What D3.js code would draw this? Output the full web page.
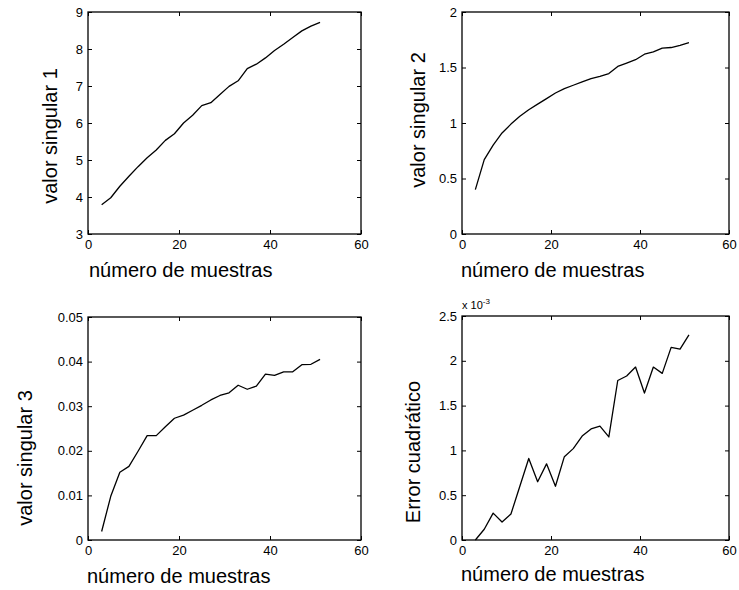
<!DOCTYPE html>
<html>
<head>
<meta charset="utf-8">
<script src="https://cdn.jsdelivr.net/npm/d3@7"></script>
<style>
  body { margin: 0; background: #fff; }
  svg { display: block; }
  text { font-family: "Liberation Sans", Arial, Helvetica, sans-serif; fill: #000; }
</style>
</head>
<body>
<svg id="fig" width="739" height="590"></svg>
<script>
// Number of samples used at each step
const muestras = [3, 5, 7, 9, 11, 13, 15, 17, 19, 21, 23, 25, 27, 29, 31, 33, 35, 37, 39, 41, 43, 45, 47, 49, 51];

// First three singular values
const valorSingular1 = [3.79, 3.98, 4.29, 4.56, 4.82, 5.06, 5.27, 5.53, 5.71, 6.00, 6.21, 6.47, 6.55, 6.77, 6.99, 7.14, 7.47, 7.59, 7.76, 7.96, 8.13, 8.31, 8.49, 8.62, 8.72];
const valorSingular2 = [0.40, 0.67, 0.80, 0.91, 0.99, 1.06, 1.12, 1.17, 1.22, 1.27, 1.31, 1.34, 1.37, 1.40, 1.42, 1.445, 1.51, 1.54, 1.57, 1.62, 1.64, 1.675, 1.68, 1.70, 1.725];
const valorSingular3 = [0.0019, 0.0098, 0.0152, 0.0165, 0.0199, 0.0234, 0.0234, 0.0254, 0.0273, 0.0280, 0.0291, 0.0302, 0.0314, 0.0324, 0.0330, 0.0347, 0.0338, 0.0345, 0.0372, 0.0369, 0.0377, 0.0377, 0.0393, 0.0394, 0.0405];

// Quadratic error, in units of 1e-3
const errorCuadratico = [0.00, 0.12, 0.30, 0.20, 0.29, 0.60, 0.91, 0.65, 0.85, 0.60, 0.93, 1.02, 1.16, 1.24, 1.27, 1.15, 1.78, 1.83, 1.93, 1.64, 1.93, 1.86, 2.15, 2.13, 2.29];

// Tick values
const xTicks = [0, 20, 40, 60];
const yTicks1 = [3, 4, 5, 6, 7, 8, 9];
const yTicks2 = [0, 0.5, 1, 1.5, 2];
const yTicks3 = [0, 0.01, 0.02, 0.03, 0.04, 0.05];
const yTicks4 = [0, 0.5, 1, 1.5, 2, 2.5];

const xLabel = "número de muestras";

const panels = [
  { box: [88, 361, 12, 234], yDomain: [3, 9], yTicks: yTicks1, values: valorSingular1,
    ylabel: "valor singular 1", ylab: [50, 136], xlab: [89, 277] },
  { box: [462, 729, 12, 234], yDomain: [0, 2], yTicks: yTicks2, values: valorSingular2,
    ylabel: "valor singular 2", ylab: [418, 120], xlab: [461, 277] },
  { box: [88, 361, 317, 540], yDomain: [0, 0.05], yTicks: yTicks3, values: valorSingular3,
    ylabel: "valor singular 3", ylab: [25, 458], xlab: [87, 583] },
  { box: [462, 729, 316, 540], yDomain: [0, 2.5], yTicks: yTicks4, values: errorCuadratico,
    ylabel: "Error cuadrático", ylab: [413, 452], xlab: [461, 581], exponent: "-3" }
];

const svg = d3.select("#fig");
const TICK = 4;

panels.forEach(p => {
  const [x0, x1, y0, y1] = p.box;
  const x = d3.scaleLinear().domain([0, 60]).range([x0, x1]);
  const y = d3.scaleLinear().domain(p.yDomain).range([y1, y0]);
  const g = svg.append("g");

  // Inward ticks on all four sides, labels on bottom and left only
  const bottom = g.append("g").attr("transform", `translate(0,${y1})`)
    .call(d3.axisBottom(x).tickValues(xTicks).tickSizeInner(-TICK).tickSizeOuter(0).tickPadding(6).tickFormat(d => String(d)));
  const top = g.append("g").attr("transform", `translate(0,${y0})`)
    .call(d3.axisTop(x).tickValues(xTicks).tickSizeInner(-TICK).tickSizeOuter(0).tickFormat(""));
  const left = g.append("g").attr("transform", `translate(${x0},0)`)
    .call(d3.axisLeft(y).tickValues(p.yTicks).tickSizeInner(-TICK).tickSizeOuter(0).tickPadding(5).tickFormat(d => String(d)));
  const right = g.append("g").attr("transform", `translate(${x1},0)`)
    .call(d3.axisRight(y).tickValues(p.yTicks).tickSizeInner(-TICK).tickSizeOuter(0).tickFormat(""));

  [bottom, top, left, right].forEach(a => {
    a.select(".domain").remove();
    a.selectAll("line").attr("stroke", "#000").attr("stroke-width", 1);
    a.selectAll("text").attr("font-size", 13).attr("font-family", null).style("fill", "#000");
  });

  // Axes box
  g.append("rect")
    .attr("x", x0).attr("y", y0)
    .attr("width", x1 - x0).attr("height", y1 - y0)
    .attr("fill", "none").attr("stroke", "#000").attr("stroke-width", 1.3);

  // Data line
  const line = d3.line().x((d, i) => x(muestras[i])).y(d => y(d));
  g.append("path")
    .datum(p.values)
    .attr("d", line)
    .attr("fill", "none")
    .attr("stroke", "#000")
    .attr("stroke-width", 1.3)
    .attr("stroke-linejoin", "round");

  // Axis labels
  g.append("text")
    .attr("x", p.xlab[0]).attr("y", p.xlab[1])
    .attr("font-size", 20)
    .text(xLabel);

  g.append("text")
    .attr("transform", `translate(${p.ylab[0]},${p.ylab[1]}) rotate(-90)`)
    .attr("text-anchor", "middle")
    .attr("dy", "0.35em")
    .attr("font-size", 20)
    .text(p.ylabel);

  // Scale factor shown above the axis
  if (p.exponent) {
    const t = g.append("text")
      .attr("x", x0).attr("y", y0 - 7)
      .attr("font-size", 11);
    t.append("tspan").text("x 10");
    t.append("tspan").attr("dy", -5).attr("font-size", 8).text(p.exponent);
  }
});
</script>
</body>
</html>
